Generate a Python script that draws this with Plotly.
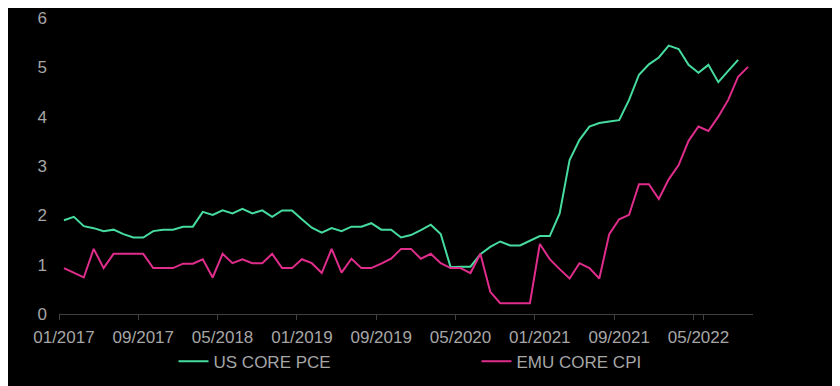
import plotly.graph_objects as go

months = [f"{m:02d}/{y}" for y in range(2017, 2023) for m in range(1, 13)][:70]

us_core_pce = [
    1.90, 1.97, 1.78, 1.74, 1.68, 1.71, 1.62, 1.55, 1.55, 1.68, 1.71, 1.71,
    1.77, 1.77, 2.07, 2.01, 2.10, 2.04, 2.13, 2.04, 2.10, 1.97, 2.10, 2.10,
    1.92, 1.75, 1.65, 1.74, 1.68, 1.77, 1.77, 1.84, 1.71, 1.71, 1.55, 1.60,
    1.70, 1.81, 1.62, 0.95, 0.96, 0.96, 1.21, 1.36, 1.47, 1.39, 1.39, 1.48,
    1.58, 1.58, 2.04, 3.12, 3.53, 3.80, 3.87, 3.90, 3.93, 4.34, 4.85, 5.06,
    5.20, 5.44, 5.37, 5.05, 4.89, 5.05, 4.70, 4.93, 5.15, None,
]

emu_core_cpi = [
    0.93, 0.84, 0.74, 1.32, 0.93, 1.22, 1.22, 1.22, 1.22, 0.93, 0.93, 0.93,
    1.02, 1.02, 1.11, 0.74, 1.22, 1.03, 1.11, 1.03, 1.03, 1.22, 0.93, 0.93,
    1.11, 1.03, 0.83, 1.32, 0.84, 1.12, 0.93, 0.93, 1.02, 1.12, 1.32, 1.32,
    1.12, 1.22, 1.03, 0.93, 0.93, 0.83, 1.22, 0.45, 0.22, 0.22, 0.22, 0.22,
    1.42, 1.11, 0.91, 0.72, 1.03, 0.93, 0.72, 1.62, 1.92, 2.01, 2.63, 2.63,
    2.33, 2.73, 3.02, 3.51, 3.80, 3.71, 4.00, 4.34, 4.81, 5.01,
]

x_ticks = months[::8]
y_ticks = [0, 1, 2, 3, 4, 5, 6]

GREEN = "#46DCA0"
PINK = "#E02D8C"
TXT = "#A6A6A6"
FONT = "Liberation Sans, Arial, sans-serif"

fig = go.Figure()
fig.add_trace(go.Scatter(x=months, y=us_core_pce, mode="lines", name="US CORE PCE",
                         line=dict(color=GREEN, width=2)))
fig.add_trace(go.Scatter(x=months, y=emu_core_cpi, mode="lines", name="EMU CORE CPI",
                         line=dict(color=PINK, width=2)))

fig.update_layout(
    width=840, height=386,
    margin=dict(l=51, r=95, t=10, b=80, autoexpand=False),
    paper_bgcolor="black", plot_bgcolor="black",
    font=dict(family=FONT, size=17, color=TXT),
    showlegend=True,
    legend=dict(orientation="h", x=0.165, xanchor="left", y=-0.10, yanchor="top",
                font=dict(size=17, color=TXT), entrywidth=258, entrywidthmode="pixels",
                bgcolor="rgba(0,0,0,0)"),
    xaxis=dict(type="category", categoryorder="array", categoryarray=months,
               range=[-0.5, 69.5], tickmode="array", tickvals=x_ticks, ticktext=x_ticks,
               tickson="boundaries", ticks="outside", ticklen=5, tickcolor="#404040",
               tickangle=0, automargin=False, ticklabelstandoff=8,
               showline=True, linecolor="#404040", linewidth=1, showgrid=False,
               zeroline=False, tickfont=dict(size=17, color=TXT)),
    yaxis=dict(range=[0, 6], tickvals=y_ticks, showgrid=False, zeroline=False,
               showline=False, ticks="", ticklabelstandoff=11, automargin=False,
               tickfont=dict(size=17, color=TXT)),
)

fig.write_html("out.html")
